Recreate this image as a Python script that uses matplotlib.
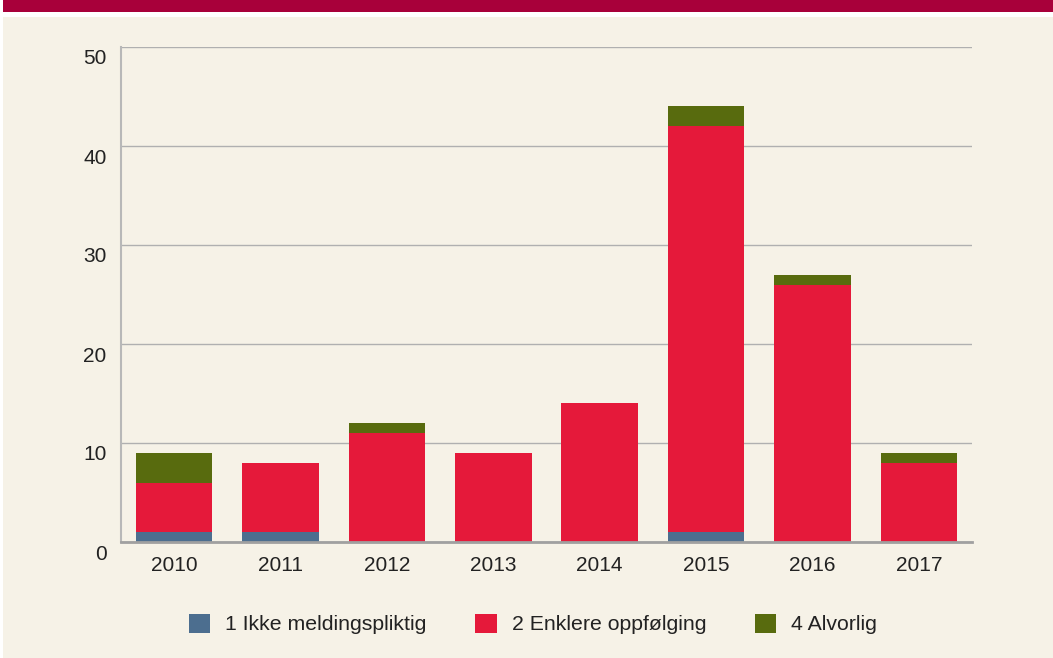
import matplotlib
matplotlib.use("Agg")
import matplotlib.pyplot as plt
import matplotlib.transforms as mtransforms
from matplotlib.patches import Rectangle
import numpy as np

years = ["2010", "2011", "2012", "2013", "2014", "2015", "2016", "2017"]
ikke_meldingspliktig = [1, 1, 0, 0, 0, 1, 0, 0]
enklere_oppfolging = [5, 7, 11, 9, 14, 41, 26, 8]
alvorlig = [3, 0, 1, 0, 0, 2, 1, 1]
series_labels = ["1 Ikke meldingspliktig", "2 Enklere oppfølging", "4 Alvorlig"]
colors = ["#4C6E8F", "#E5193A", "#586B0E"]
yticks = [0, 10, 20, 30, 40, 50]

plt.rcParams['font.family'] = ['Liberation Sans', 'DejaVu Sans']

W, H = 1053, 658
fig = plt.figure(figsize=(W / 100, H / 100), dpi=100)
fig.patch.set_facecolor("white")

# banner and panel background
fig.patches.append(Rectangle((3 / W, 1 - 12 / H), 1 - 3 / W, 12 / H,
                             transform=fig.transFigure, facecolor="#A8003A",
                             edgecolor="none", zorder=-10))
fig.patches.append(Rectangle((3 / W, 0), 1 - 3 / W, 1 - 17 / H,
                             transform=fig.transFigure, facecolor="#F6F2E7",
                             edgecolor="none", zorder=-10))

left, right = 121 / W, 972 / W
bottom, top = 1 - 542 / H, 1 - 47 / H
ax = fig.add_axes([left, bottom, right - left, top - bottom])
ax.set_facecolor("none")

x = np.arange(len(years))
width = 0.72
b1 = np.array(ikke_meldingspliktig)
b2 = np.array(enklere_oppfolging)
b3 = np.array(alvorlig)
ax.bar(x, b1, width, color=colors[0], label=series_labels[0], zorder=3)
ax.bar(x, b2, width, bottom=b1, color=colors[1], label=series_labels[1], zorder=3)
ax.bar(x, b3, width, bottom=b1 + b2, color=colors[2], label=series_labels[2], zorder=3)

ax.set_xlim(-0.5, len(years) - 0.5)
ax.set_ylim(0, 50)
ax.set_xticks(x)
ax.set_xticklabels(years)
ax.set_yticks(yticks)
ax.tick_params(axis="both", length=0, labelsize=15, colors="#222222")
ax.tick_params(axis="x", pad=10)
ax.tick_params(axis="y", pad=10.5)

offset = mtransforms.ScaledTranslation(0, -10 / 100, fig.dpi_scale_trans)
for lab in ax.get_yticklabels():
    lab.set_transform(lab.get_transform() + offset)

ax.yaxis.grid(True, color="#B0B0B0", linewidth=1.0, zorder=1)
ax.set_axisbelow(True)
for s in ["top", "right"]:
    ax.spines[s].set_visible(False)
ax.spines["left"].set_color("#B8B8B8")
ax.spines["left"].set_linewidth(1.5)
ax.spines["bottom"].set_color("#A0A0A0")
ax.spines["bottom"].set_linewidth(2)
ax.spines["bottom"].set_zorder(4)

leg = fig.legend(loc="center", bbox_to_anchor=(533 / W, 1 - 624 / H), ncol=3,
                 frameon=False, fontsize=15.3, handlelength=1.0, handleheight=1.0,
                 handletextpad=0.7, columnspacing=2.3)
for t in leg.get_texts():
    t.set_color("#222222")

fig.savefig("out.png", dpi=100, facecolor=fig.get_facecolor())
